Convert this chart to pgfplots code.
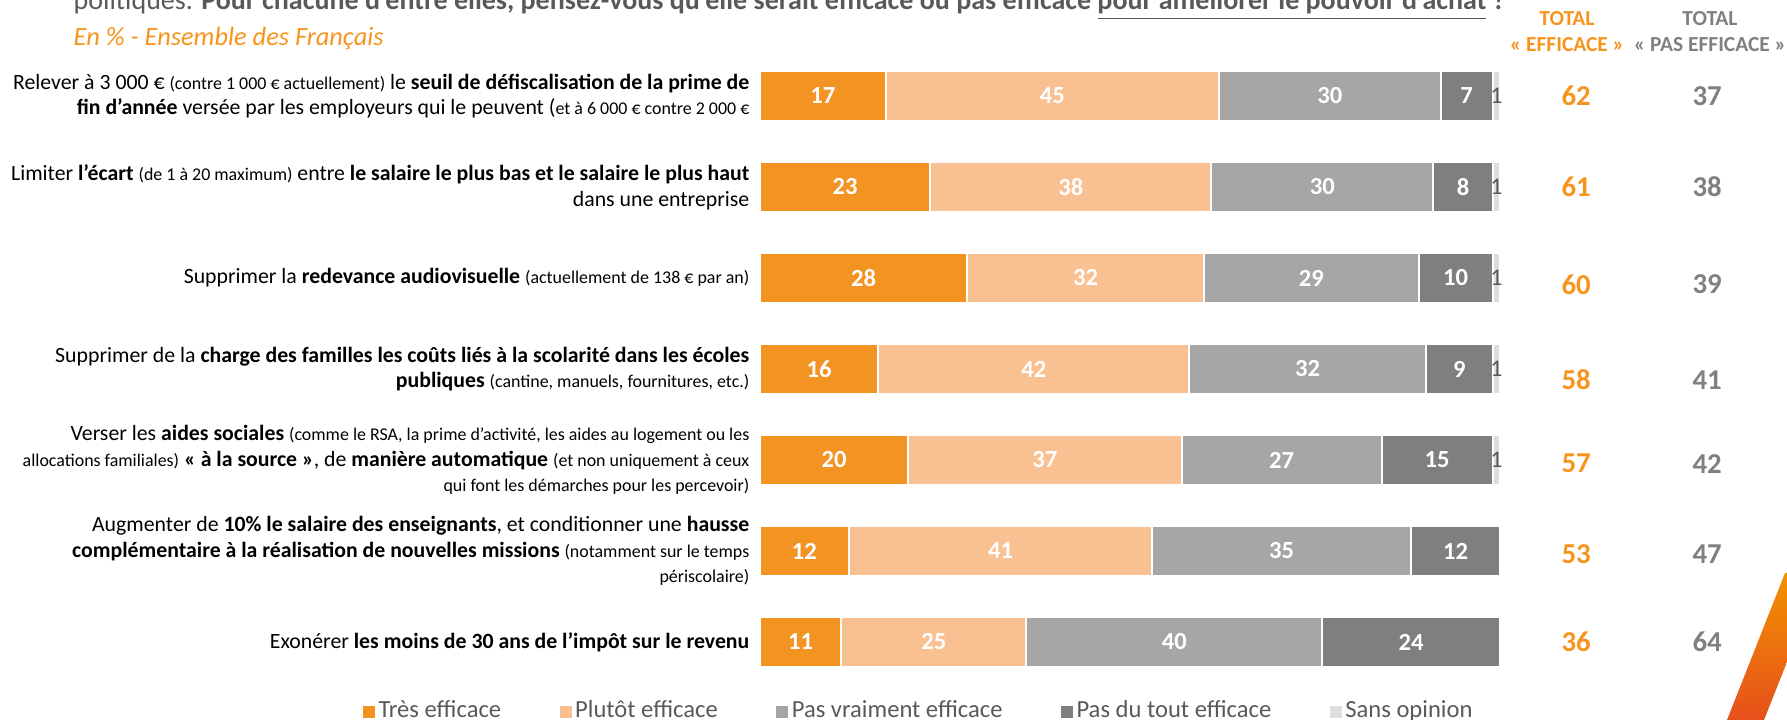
\documentclass[border=0pt]{standalone}
\usepackage{fontspec}
\setmainfont{Carlito}
\usepackage{pgfplots}
\usepackage{pgfplotstable}
\usepackage{graphicx}
\pgfplotsset{compat=1.18}
\definecolor{c1}{HTML}{F39322}
\definecolor{c2}{HTML}{F9C192}
\definecolor{c3}{HTML}{A6A6A6}
\definecolor{c4}{HTML}{7F7F7F}
\definecolor{c5}{HTML}{DDDDDD}
\definecolor{torange}{HTML}{F7941D}
\definecolor{tgray}{HTML}{808080}
\definecolor{txt}{HTML}{595959}
\definecolor{decA}{HTML}{F39200}
\definecolor{decB}{HTML}{E6501B}

\pgfplotstableread{
idx a b c d e ef pe ty
0 17 45 30 7 1 62 37 0
1 23 38 30 8 1 61 38 1
2 28 32 29 10 1 60 39 2.07
3 16 42 32 9 1 58 41 3.12
4 20 37 27 15 1 57 42 4.04
5 12 41 35 12 0 53 47 5.03
6 11 25 40 24 0 36 64 6
}\data

\newcommand\sm[1]{{\fontsize{5.1}{7.3}\selectfont #1}}

\pgfplotsset{
  geom/.style={
    at={(7.60cm,0.325cm)}, anchor=south west,
    scale only axis, width=7.40cm, height=6.37cm,
    xmin=0, xmax=100, ymin=-0.5, ymax=6.5, y dir=reverse,
    axis line style={draw=none}, ticks=none, clip=false,
  },
  lab/.style={draw=none, mark=none, nodes near coords, point meta=explicit symbolic,
    nodes near coords align={center},
    every node near coord/.append style={anchor=center, inner sep=0pt,
      font=\fontsize{7}{8}\selectfont\bfseries, text=white}},
}

\begin{document}
\begin{tikzpicture}
\useasboundingbox (0,0) rectangle (17.87,7.2);
\clip (0,0) rectangle (17.87,7.2);

% title (partly cut at the top)
\node[anchor=base west, inner sep=0pt, text=txt] at (0.73,7.10)
  {\resizebox{14.32cm}{!}{politiques. \textbf{Pour chacune d'entre elles, pensez-vous qu'elle serait efficace ou pas efficace \underline{pour améliorer le pouvoir d'achat}~?}}};
\node[anchor=base west, inner sep=0pt, text=torange, font=\fontsize{7.5}{8}\selectfont\itshape] at (0.73,6.74)
  {En \% - Ensemble des Français};

% column headers
\begin{scope}[font=\fontsize{6.1}{7}\selectfont\bfseries]
\node[text=torange] at (15.67,7.01) {TOTAL};
\node[text=torange] at (15.67,6.75) {« EFFICACE »};
\node[text=tgray] at (17.10,7.01) {TOTAL};
\node[text=tgray] at (17.10,6.75) {« PAS EFFICACE »};
\end{scope}

\begin{axis}[geom, xbar stacked, bar width=5.0mm,
  legend columns=5,
  legend style={draw=none, fill=none, inner sep=0pt, outer sep=0pt,
    at={(-0.5365,-0.0385)}, anchor=west,
    font=\fontsize{7}{8}\selectfont, text=txt,
    nodes={inner sep=1pt},
    /tikz/every even column/.append style={column sep=5.5mm}},
  legend image code/.code={\path[#1,draw=none] (0mm,-0.6mm) rectangle (1.2mm,0.6mm);},
]
\addplot[fill=c1, draw=white, line width=0.6pt] table[x=a, y=idx]{\data};
\addlegendentry{Très efficace}
\addplot[fill=c2, draw=white, line width=0.6pt] table[x=b, y=idx]{\data};
\addlegendentry{Plutôt efficace}
\addplot[fill=c3, draw=white, line width=0.6pt] table[x=c, y=idx]{\data};
\addlegendentry{Pas vraiment efficace}
\addplot[fill=c4, draw=white, line width=0.6pt] table[x=d, y=idx]{\data};
\addlegendentry{Pas du tout efficace}
\addplot[fill=c5, draw=white, line width=0.6pt, skip coords between index={5}{7}] table[x=e, y=idx]{\data};
\addlegendentry{Sans opinion}
\end{axis}

\begin{axis}[geom]
\addplot[lab] table[x expr={\thisrow{a}/2}, y=idx, meta=a]{\data};
\addplot[lab] table[x expr={\thisrow{a}+\thisrow{b}/2}, y=idx, meta=b]{\data};
\addplot[lab] table[x expr={\thisrow{a}+\thisrow{b}+\thisrow{c}/2}, y=idx, meta=c]{\data};
\addplot[lab] table[x expr={\thisrow{a}+\thisrow{b}+\thisrow{c}+\thisrow{d}/2}, y=idx, meta=d]{\data};
\addplot[lab, skip coords between index={5}{7},
  every node near coord/.append style={font=\fontsize{6.8}{8}\selectfont, text=txt}]
  table[x expr={\thisrow{a}+\thisrow{b}+\thisrow{c}+\thisrow{d}+\thisrow{e}/2}, y=idx, meta=e]{\data};
\addplot[lab, every node near coord/.append style={font=\fontsize{8.2}{9}\selectfont\bfseries, text=torange}]
  table[x expr=110.3, y=ty, meta=ef]{\data};
\addplot[lab, every node near coord/.append style={font=\fontsize{8.2}{9}\selectfont\bfseries, text=tgray}]
  table[x expr=128.0, y=ty, meta=pe]{\data};

\begin{scope}[every node/.style={anchor=east, align=right, inner sep=0pt, font=\fontsize{6.2}{7.3}\selectfont}]
\node at (axis cs:-1.35,0) {Relever à 3 000 € \sm{(contre 1 000 € actuellement)} le \textbf{seuil de défiscalisation de la prime de}\\ \textbf{fin d'année} versée par les employeurs qui le peuvent (\sm{et à 6 000 € contre 2 000 €}};
\node at (axis cs:-1.35,1) {Limiter \textbf{l’écart} \sm{(de 1 à 20 maximum)} entre \textbf{le salaire le plus bas et le salaire le plus haut}\\ dans une entreprise};
\node at (axis cs:-1.35,2) {Supprimer la \textbf{redevance audiovisuelle} \sm{(actuellement de 138 € par an)}};
\node at (axis cs:-1.35,3) {Supprimer de la \textbf{charge des familles les coûts liés à la scolarité dans les écoles}\\ \textbf{publiques} \sm{(cantine, manuels, fournitures, etc.)}};
\node at (axis cs:-1.35,4) {Verser les \textbf{aides sociales} \sm{(comme le RSA, la prime d'activité, les aides au logement ou les}\\ \sm{allocations familiales)} \textbf{« à la source »}, de \textbf{manière automatique} \sm{(et non uniquement à ceux}\\ \sm{qui font les démarches pour les percevoir)}};
\node at (axis cs:-1.35,5) {Augmenter de \textbf{10\% le salaire des enseignants}, et conditionner une \textbf{hausse}\\ \textbf{complémentaire à la réalisation de nouvelles missions} \sm{(notamment sur le temps}\\ \sm{périscolaire)}};
\node at (axis cs:-1.35,6) {Exonérer \textbf{les moins de 30 ans de l’impôt sur le revenu}};
\end{scope}
\end{axis}

% decorative swoosh
\shade[top color=decA, bottom color=decB] (17.27,0) -- (17.85,1.47) -- (17.87,1.47) -- (17.87,0.58) -- (17.64,0) -- cycle;
\end{tikzpicture}
\end{document}
